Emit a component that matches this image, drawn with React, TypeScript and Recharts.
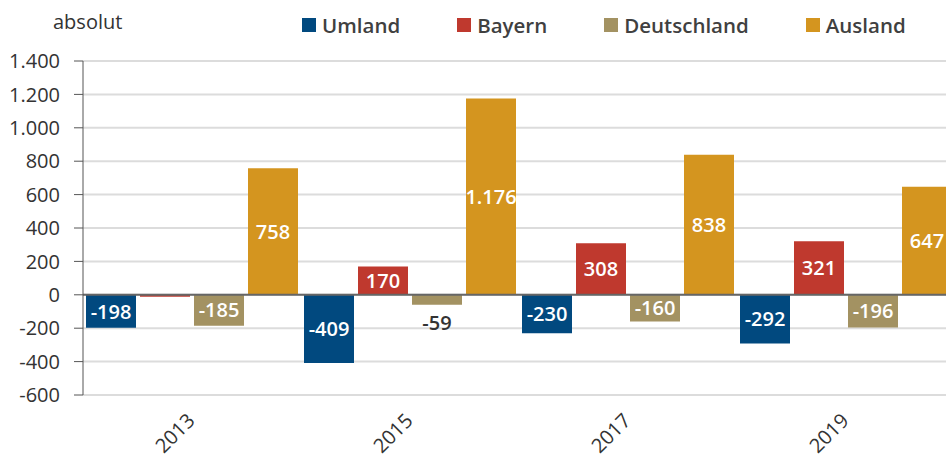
import { Bar, BarChart, CartesianGrid, LabelList, ReferenceLine, XAxis, YAxis } from "recharts"

const years = ["2013", "2015", "2017", "2019"]
const umland = [-198, -409, -230, -292]
const bayern = [-11, 170, 308, 321]
const deutschland = [-185, -59, -160, -196]
const ausland = [758, 1176, 838, 647]
const yTicks = [-600, -400, -200, 0, 200, 400, 600, 800, 1000, 1200, 1400]

const series = [
  { key: "umland", name: "Umland", color: "#01497f", outside: "#fff" },
  { key: "bayern", name: "Bayern", color: "#bf392e", outside: "#fff" },
  { key: "deutschland", name: "Deutschland", color: "#a39262", outside: "#333" },
  { key: "ausland", name: "Ausland", color: "#d4951f", outside: "#fff" },
]

const data = years.map((year, i) => ({
  year,
  umland: umland[i],
  bayern: bayern[i],
  deutschland: deutschland[i],
  ausland: ausland[i],
}))

const font = "'Open Sans', sans-serif"
const fmt = (v: number) => String(v).replace(/\B(?=(\d{3})+(?!\d))/g, ".")

function makeLabel(outside: string) {
  return (props: any) => {
    const { x, y, width, height, value } = props
    const top = Math.min(y, y + height)
    const h = Math.abs(height)
    const cx = x + width / 2
    if (h >= 22) {
      return (
        <text x={cx} y={top + h / 2} dy="0.36em" textAnchor="middle" fill="#fff"
          fontFamily={font} fontSize={20} fontWeight={600}>
          {fmt(value)}
        </text>
      )
    }
    // small bars: label sits just outside the bar end
    const cy = value < 0 ? top + h + 18 : top - 18
    return (
      <text x={cx} y={cy} dy="0.36em" textAnchor="middle" fill={outside}
        fontFamily={font} fontSize={20} fontWeight={600}>
        {fmt(value)}
      </text>
    )
  }
}

function YearTick(props: any) {
  const { x, y, payload } = props
  return (
    <text x={x + 4} y={y} textAnchor="end" fill="#333" fontFamily={font} fontSize={20}
      transform={`rotate(-45, ${x + 4}, ${y})`}>
      {payload.value}
    </text>
  )
}

export default function App() {
  return (
    <div style={{ position: "relative", width: 946, height: 459, overflow: "hidden", fontFamily: font }}>
      <style>{"body{margin:0;overflow:hidden}"}</style>
      <div style={{ position: "absolute", left: 53, top: 8, fontSize: 20, color: "#333" }}>absolut</div>
      <div style={{ position: "absolute", left: 302, top: 11, display: "flex", gap: 57 }}>
        {series.map((s) => (
          <div key={s.key} style={{ display: "flex", alignItems: "center", fontSize: 20.5, fontWeight: 600, color: "#404040" }}>
            <span style={{ width: 14, height: 14, background: s.color, marginRight: 6, display: "inline-block" }} />
            {s.name}
          </div>
        ))}
      </div>
      <BarChart width={960} height={459} data={data} margin={{ top: 61, right: 5, bottom: 0, left: 0 }}
        barSize={50} barGap={4}>
        <CartesianGrid vertical={false} stroke="#dcdcdc" strokeWidth={2} />
        <XAxis dataKey="year" axisLine={false} tickLine={false} height={64} tickSize={0} tickMargin={27}
          tick={<YearTick />} interval={0} />
        <YAxis domain={[-600, 1400]} ticks={yTicks} width={83} tickFormatter={fmt}
          axisLine={{ stroke: "#555" }} tickLine={{ stroke: "#555" }} tickSize={9} tickMargin={14}
          tick={{ fill: "#333", fontSize: 20, fontFamily: font }} />
        <ReferenceLine y={0} stroke="#666" strokeWidth={2} />
        {series.map((s) => (
          <Bar key={s.key} dataKey={s.key} name={s.name} fill={s.color} isAnimationActive={false}>
            <LabelList dataKey={s.key} content={makeLabel(s.outside)} />
          </Bar>
        ))}
      </BarChart>
    </div>
  )
}
